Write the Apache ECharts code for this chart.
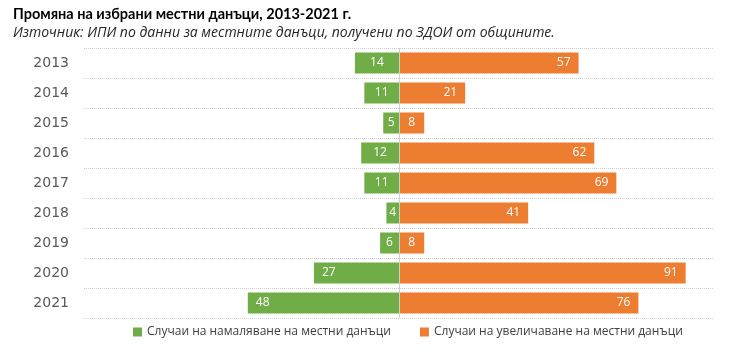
<!DOCTYPE html>
<html>
<head>
<meta charset="utf-8">
<script src="https://cdn.jsdelivr.net/npm/echarts@6/dist/echarts.min.js"></script>
<style>
  html, body { margin: 0; padding: 0; background: #fff; }
  #chart { width: 730px; height: 352px; }
</style>
</head>
<body>
<div id="chart"></div>
<script>
// години (категории)
var years = ['2013', '2014', '2015', '2016', '2017', '2018', '2019', '2020', '2021'];
// случаи на намаляване
var decreases = [14, 11, 5, 12, 11, 4, 6, 27, 48];
// случаи на увеличаване
var increases = [57, 21, 8, 62, 69, 41, 8, 91, 76];

var nameDec = 'Случаи на намаляване на местни данъци';
var nameInc = 'Случаи на увеличаване на местни данъци';

// къси ленти - етикетът е в средата
function decItem(v) {
    var item = { value: -v };
    if (v < 20) item.label = { position: 'inside' };
    return item;
}
function incItem(v) {
    var item = { value: v };
    if (v < 15) item.label = { position: 'inside' };
    return item;
}

var myChart = echarts.init(document.getElementById('chart'));
myChart.setOption({
    animation: false,
    textStyle: { fontFamily: 'Open Sans' },
    title: {
        text: 'Промяна на избрани местни данъци, 2013-2021 г.',
        subtext: 'Източник: ИПИ по данни за местните данъци, получени по ЗДОИ от общините.',
        left: 8,
        top: 2,
        itemGap: 4,
        textStyle: { fontSize: 14.5, fontWeight: 'bold', fontFamily: 'Lato', color: '#000' },
        subtextStyle: { fontSize: 14, fontStyle: 'italic', color: '#262626' }
    },
    legend: {
        orient: 'horizontal',
        top: 321,
        left: 128,
        width: 600,
        itemWidth: 9,
        itemHeight: 9,
        itemGap: 29,
        icon: 'rect',
        textStyle: { fontSize: 12, color: '#404040' },
        data: [nameDec, nameInc]
    },
    grid: { left: 84, right: 16, top: 48, bottom: 34 },
    xAxis: {
        type: 'value',
        min: -100,
        max: 100,
        show: false
    },
    yAxis: {
        type: 'category',
        data: years,
        inverse: true,
        axisLine: { show: false, onZero: false },
        axisTick: { show: false },
        axisLabel: { margin: 15, fontSize: 14, fontFamily: 'DejaVu Sans', color: '#595959' },
        splitLine: { show: true, lineStyle: { type: 'dotted', color: '#cfcfcf', width: 1 } }
    },
    series: [
        {
            name: nameDec,
            type: 'bar',
            stack: 'total',
            barWidth: 21,
            itemStyle: { color: '#70AD47' },
            label: {
                show: true,
                position: 'insideLeft',
                distance: 8,
                color: '#fff',
                fontSize: 12,
                formatter: function (p) { return Math.abs(p.value); }
            },
            markLine: {
                silent: true,
                symbol: 'none',
                label: { show: false },
                lineStyle: { color: '#d0d0d0', type: 'solid', width: 1 },
                data: [{ xAxis: 0 }]
            },
            data: decreases.map(decItem)
        },
        {
            name: nameInc,
            type: 'bar',
            stack: 'total',
            barWidth: 21,
            itemStyle: { color: '#ED7D31' },
            label: {
                show: true,
                position: 'insideRight',
                distance: 8,
                color: '#fff',
                fontSize: 12
            },
            data: increases.map(incItem)
        }
    ]
});
</script>
</body>
</html>
